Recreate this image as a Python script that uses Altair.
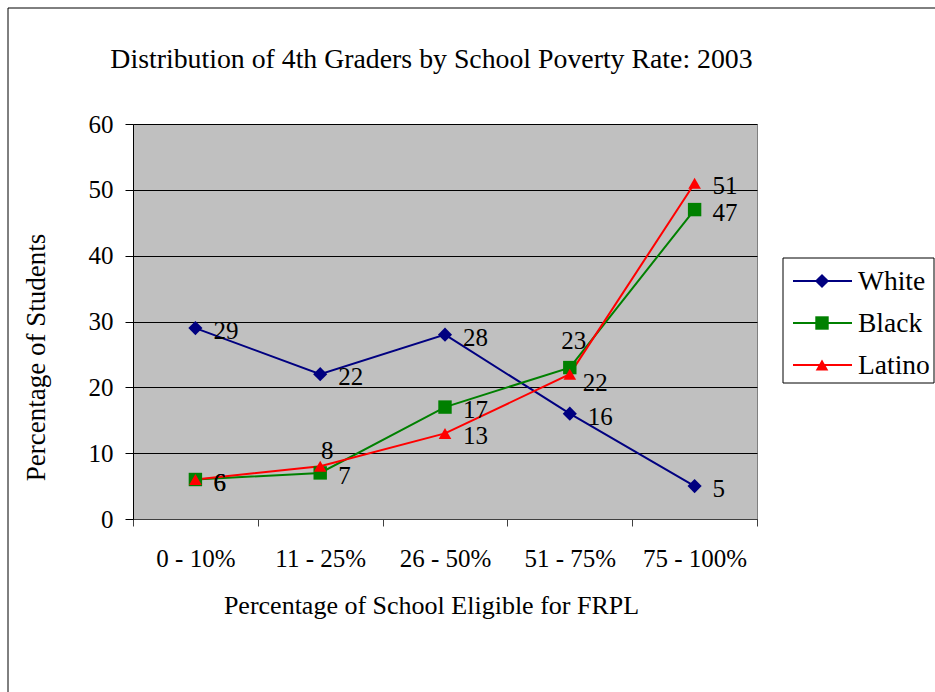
import altair as alt
import pandas as pd

# Share of 4th graders (%) by school poverty band, 2003
bands = ["0 - 10%", "11 - 25%", "26 - 50%", "51 - 75%", "75 - 100%"]
series = ["White", "Black", "Latino"]
white = [29, 22, 28, 16, 5]
black = [6, 7, 17, 23, 47]
latino = [6, 8, 13, 22, 51]
y_ticks = [0, 10, 20, 30, 40, 50, 60]
title_text = "Distribution of 4th Graders by School Poverty Rate: 2003"

colors = ["#000080", "#008000", "#FF0000"]
shapes = ["diamond", "square", "triangle-up"]
marker_sizes = [200, 160, 230]
FONT = "Liberation Serif"

rows = []
for name, vals in zip(series, [white, black, latino]):
    for b, v in zip(bands, vals):
        rows.append({"band": b, "series": name, "pct": v})
df = pd.DataFrame(rows)
legend_df = pd.DataFrame({"series": series})
one = alt.Data(values=[{}])

color = alt.Color("series:N", scale=alt.Scale(domain=series, range=colors), legend=None)
shape = alt.Shape("series:N", scale=alt.Scale(domain=series, range=shapes), legend=None)
size = alt.Size("series:N", scale=alt.Scale(domain=series, range=marker_sizes), legend=None)

x = alt.X(
    "band:N",
    sort=bands,
    bandPosition=0.5,
    scale=alt.Scale(type="band", domain=bands, paddingInner=0, paddingOuter=0),
    axis=alt.Axis(
        title="Percentage of School Eligible for FRPL",
        titleFont=FONT, titleFontSize=26, titleFontWeight="normal", titleColor="black",
        titleX=298, titleY=86, titleAlign="center", titleBaseline="middle",
        labelFont=FONT, labelFontSize=25, labelColor="black", labelAngle=0,
        labelBaseline="middle", labelPadding=32,
        tickBand="extent", tickSize=7, tickColor="#404040",
        domainColor="#404040", grid=False,
    ),
)
y = alt.Y(
    "pct:Q",
    scale=alt.Scale(domain=[0, 60], nice=False, zero=True),
    axis=alt.Axis(
        values=y_ticks, title="Percentage of Students",
        titleFont=FONT, titleFontSize=27, titleFontWeight="normal", titleColor="black",
        titleX=-97, titleY=233, titleAlign="center", titleBaseline="middle", titleAngle=-90,
        labelFont=FONT, labelFontSize=25, labelColor="black", labelPadding=12,
        tickSize=8, tickColor="black", domainColor="black",
        grid=True, gridColor="black", gridWidth=1,
    ),
)

base = alt.Chart(df).encode(x=x, y=y, color=color)

lines = base.mark_line(strokeWidth=2).encode(detail="series:N")
points = base.mark_point(filled=True, opacity=1).encode(shape=shape, size=size)

# value labels: most sit to the right of the marker, a few are nudged
moved = ("(datum.series == 'Latino' && datum.band == '11 - 25%') || "
         "(datum.series == 'Black' && datum.band == '51 - 75%') || "
         "(datum.series == 'Latino' && datum.band == '51 - 75%')")
text_base = alt.Chart(df).encode(x=x, y=y, text="pct:Q")
label_kw = dict(font=FONT, fontSize=25, color="black", baseline="middle")
labels_right = text_base.transform_filter("!(" + moved + ")").mark_text(
    align="left", dx=18, dy=3, **label_kw)
label_8 = text_base.transform_filter(
    "datum.series == 'Latino' && datum.band == '11 - 25%'").mark_text(
    align="center", dx=7, dy=-15, **label_kw)
label_23 = text_base.transform_filter(
    "datum.series == 'Black' && datum.band == '51 - 75%'").mark_text(
    align="center", dx=4, dy=-27, **label_kw)
label_22 = text_base.transform_filter(
    "datum.series == 'Latino' && datum.band == '51 - 75%'").mark_text(
    align="left", dx=13, dy=9, **label_kw)

plot = alt.layer(lines, points, labels_right, label_8, label_23, label_22)

# outer chart frame, title and legend box
frame = alt.Chart(one).mark_rect(fill=None, stroke="black", strokeWidth=1).encode(
    x=alt.value(-125), x2=alt.value(900), y=alt.value(-116), y2=alt.value(700))
title = alt.Chart(one).mark_text(
    font=FONT, fontSize=27.8, color="black", align="center", baseline="alphabetic"
).encode(x=alt.value(298.5), y=alt.value(-56), text=alt.value(title_text))
legend_box = alt.Chart(one).mark_rect(fill="white", stroke="black", strokeWidth=1).encode(
    x=alt.value(650), x2=alt.value(801), y=alt.value(134), y2=alt.value(259))

leg_y = alt.Y("series:N", scale=alt.Scale(type="point", domain=series, range=[157, 241], padding=0),
              axis=None)
leg_base = alt.Chart(legend_df).encode(y=leg_y, color=color)
leg_rule = leg_base.mark_rule(strokeWidth=2).encode(x=alt.value(660), x2=alt.value(719))
leg_pts = leg_base.mark_point(filled=True, opacity=1).encode(x=alt.value(689), shape=shape, size=size)
leg_text = alt.Chart(legend_df).mark_text(
    font=FONT, fontSize=27.5, color="black", align="left", baseline="middle", dy=1
).encode(y=leg_y, x=alt.value(725), text="series:N")

legend = alt.layer(frame, title, legend_box, leg_rule, leg_pts, leg_text)

chart = alt.layer(legend, plot).resolve_scale(y="independent").properties(
    width=624,
    height=395,
    autosize=alt.AutoSizeParams(type="none"),
    padding={"left": 133, "top": 124, "right": 178, "bottom": 173},
    background="white",
).configure_view(fill="#C0C0C0", stroke="#808080", strokeWidth=1)

chart.save("out.html", embed_options={"renderer": "svg", "actions": False})
